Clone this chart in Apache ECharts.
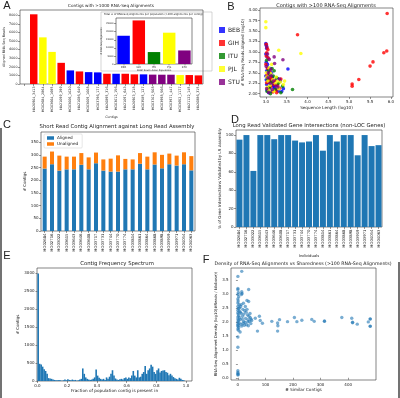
<!DOCTYPE html>
<html>
<head>
<meta charset="utf-8">
<script src="https://cdn.jsdelivr.net/npm/echarts@6/dist/echarts.min.js"></script>
<style>
html, body { margin: 0; padding: 0; background: #fff; }
#main { width: 400px; height: 398px; }
</style>
</head>
<body>
<div id="main"></div>
<script>
// ---- A: contigs with >1000 alignments
var contigNames = ['NA20904_3413', 'HG02684_2864', 'HG03664_1695', 'NA21099_299', 'HG03006_1020',
  'NA21086_649', 'HG03009_1008', 'HG03796_177', 'NA20895_316', 'HG03012_156', 'NA21091_643',
  'NA20903_218', 'HG03585_127', 'HG03702_508', 'HG03998_566', 'HG03971_447', 'HG03652_1177',
  'NA21122_145', 'NA20886_315'];
var contigReads = [8100, 5420, 3730, 2460, 1580, 1460, 1380, 1350, 1190, 1190, 1190, 1120, 1120, 1090, 1080, 1080, 1040, 1040, 1000];
var contigPops = ['GIH', 'PJL', 'PJL', 'GIH', 'BEB', 'GIH', 'BEB', 'BEB', 'GIH', 'BEB', 'GIH',
  'GIH', 'BEB', 'STU', 'STU', 'STU', 'PJL', 'GIH', 'GIH'];
var aTicks = [0, 1000, 2000, 3000, 4000, 5000, 6000, 7000, 8000];

// inset: totals per population
var popNames = ['BEB', 'GIH', 'ITU', 'PJL', 'STU'];
var popTotals = [17500, 27000, 7400, 19400, 8400];
var insetTicks = [0, 5000, 10000, 15000, 20000, 25000];

// ---- B: log10 length vs log10 reads, per population
var bebPts = [[3.00,3.20],[3.01,3.16],[3.02,3.08],[3.00,2.95],[3.03,2.88],[3.01,2.75],[3.05,2.62],[3.02,2.55],
  [3.08,2.48],[3.00,2.42],[3.04,2.38],[3.10,2.35],[3.12,2.30],[3.06,2.27],[3.02,2.22],[3.15,2.20],[3.18,2.25],
  [3.20,2.15],[3.09,2.12],[3.03,2.08],[3.25,2.10],[3.13,2.05],[3.07,2.02],[3.30,2.06],[3.22,2.32],[3.16,2.40],
  [3.28,2.36],[3.35,2.30],[3.42,2.12],[3.53,2.59],[3.11,2.60],[3.04,2.70],[3.19,2.18],[3.01,2.33],[3.26,2.22],
  [3.14,2.50],[3.38,2.05]];
var gihPts = [[3.01,3.18],[3.03,3.10],[3.05,3.05],[3.02,2.98],[3.06,2.85],[3.00,2.70],[3.04,2.60],[3.09,2.52],
  [3.03,2.45],[3.11,2.40],[3.07,2.33],[3.15,2.28],[3.02,2.26],[3.20,2.22],[3.12,2.17],[3.05,2.12],[3.24,2.08],
  [3.17,2.04],[3.09,2.30],[3.28,2.20],[3.33,2.13],[3.14,2.36],[3.21,2.31],[3.76,3.41],[5.91,3.92],[5.83,2.98],
  [5.90,3.02],[5.57,2.76],[5.50,2.66],[5.23,2.34],[5.07,2.23],[5.07,2.18],[3.01,2.90],[3.36,2.35],[3.26,2.02]];
var ituPts = [[3.02,2.80],[3.06,2.55],[3.10,2.45],[3.04,2.35],[3.13,2.28],[3.18,2.42],[3.08,2.15],[3.22,2.10],
  [3.03,2.05],[3.30,2.25],[3.15,2.60],[3.26,2.38],[3.64,2.10],[3.36,2.02],[3.40,2.18],[3.20,2.55],[3.11,2.00]];
var pjlPts = [[3.00,3.72],[3.00,3.58],[3.31,3.04],[3.84,2.96],[3.02,2.40],[3.07,2.62],[3.12,2.48],[3.05,2.30],
  [3.17,2.33],[3.23,2.25],[3.10,2.20],[3.28,2.30],[3.35,2.28],[3.42,2.22],[3.08,2.08],[3.19,2.06],[3.14,2.70],
  [3.03,2.15],[3.25,2.40],[3.31,2.12],[3.45,2.30],[3.01,2.50]];
var stuPts = [[3.02,3.12],[3.04,2.95],[3.08,2.82],[3.01,2.65],[3.20,2.88],[3.41,2.81],[3.06,2.50],[3.13,2.43],
  [3.05,2.38],[3.18,2.30],[3.10,2.25],[3.24,2.18],[3.02,2.12],[3.16,2.10],[3.29,2.16],[3.07,2.03],[3.21,2.72],
  [3.33,2.35],[3.12,2.58]];
var bXTicks = [3.0, 3.5, 4.0, 4.5, 5.0, 5.5, 6.0];
var bYTicks = [2.00, 2.25, 2.50, 2.75, 3.00, 3.25, 3.50, 3.75, 4.00];

// ---- C / D: individuals
var individuals = ['HG02684', 'HG02716', 'HG03022', 'HG03615', 'HG03643', 'HG03646', 'HG03608', 'HG03717',
  'HG03731', 'HG03744', 'HG03770', 'HG03774', 'HG03814', 'HG03861', 'HG03864', 'HG03868', 'HG03898',
  'HG03919', 'HG03971', 'HG04054', 'HG04063'];
var alignedCounts = [246, 263, 238, 243, 243, 261, 243, 267, 238, 234, 234, 243, 243, 265, 243, 262, 247, 263, 258, 263, 239];
var unalignedCounts = [47, 50, 59, 50, 50, 46, 47, 42, 44, 51, 64, 41, 39, 42, 50, 48, 53, 42, 39, 47, 56];
var cTicks = [0, 50, 100, 150, 200, 250, 300, 350];
var validatedPct = [95, 100, 61, 100, 100, 95.5, 100, 100, 94, 92, 93, 100, 83, 100, 93, 100, 100, 78, 100, 88, 89];
var dTicks = [0, 20, 40, 60, 80, 100];

// ---- E: contig frequency spectrum, bins of 0.01
var freqCounts = [
  3000, 480, 460, 400, 330, 280, 200, 80, 70, 60,
  40, 30, 20, 20, 30, 20, 10, 20, 40, 20,
  50, 30, 20, 40, 20, 30, 10, 20, 40, 60,
  350, 200, 100, 60, 40, 30, 40, 60, 100, 320,
  150, 90, 60, 40, 60, 30, 100, 60, 120, 200,
  300, 150, 70, 40, 30, 50, 60, 40, 80, 100,
  60, 100, 80, 150, 280, 150, 100, 300, 100, 120,
  200, 250, 420, 200, 300, 350, 450, 400, 250, 200,
  300, 350, 240, 280, 290, 300, 250, 230, 160, 200,
  150, 110, 80, 60, 40, 90, 60, 30, 20, 0];
var binWidth = 0.01;
var eXTicks = [0, 0.2, 0.4, 0.6, 0.8, 1.0];
var eYTicks = [0, 500, 1000, 1500, 2000, 2500, 3000];

// ---- F: density vs sharedness
var densityPts = [[0,3.63],[14,3.81],[0,3.20],[0,3.15],[2,3.05],[0,2.98],[3,2.90],[0,2.82],[1,2.75],[0,2.68],
  [4,2.62],[0,2.55],[2,2.48],[0,2.42],[5,2.38],[0,2.33],[1,2.28],[3,2.22],[0,2.18],[6,2.15],[0,2.10],[2,2.05],
  [0,2.00],[4,1.96],[0,1.92],[1,1.88],[0,1.84],[3,1.80],[0,1.75],[2,1.70],[8,1.64],[0,1.46],[0,1.09],[0,0.25],
  [0,0.19],[0,0.15],[1,0.12],[0,0.10],
  [14,3.08],[15,3.02],[13,2.98],[39,3.16],[20,2.67],[33,2.77],[39,2.73],[10,2.55],[18,2.45],[25,2.40],[30,2.35],
  [12,2.30],[22,2.28],[35,2.25],[40,2.20],[45,2.15],[28,2.12],[16,2.10],[8,2.08],[50,2.05],[42,2.02],[36,2.00],
  [26,1.98],[19,1.95],[11,1.92],[31,1.90],[47,1.94],[23,1.88],[14,1.85],[38,1.86],[44,2.30],[33,2.45],[27,2.55],
  [17,2.20],[9,2.35],[48,2.10],[37,2.08],[21,2.02],[6,2.50],[12,2.62],
  [63,2.13],[71,1.67],[78,2.20],[81,2.05],[89,1.95],[123,2.02],[144,1.96],[144,1.67],[145,1.86],[151,2.08],
  [180,2.01],[205,2.16],[214,2.01],[232,2.06],[268,2.09],[277,2.02],[314,2.02],[314,2.03],[377,2.16],[413,2.13],
  [416,1.99],[416,1.97],[433,1.92],[473,2.00],[480,2.11],[480,2.10],[480,1.85],[480,1.84]];
var fXTicks = [0, 100, 200, 300, 400];
var fYTicks = [0, 0.5, 1.0, 1.5, 2.0, 2.5, 3.0, 3.5];

var popColors = { BEB: '#0000ff', GIH: '#ff0000', ITU: '#008000', PJL: '#ffff00', STU: '#800080' };
var blue = '#1f77b4', orange = '#ff7f0e';
var FONT = 'DejaVu Sans';
var ink = '#222';

var chart = echarts.init(document.getElementById('main'));

function plain(v) { return String(v); }
function fixed(n) { return function (v) { return v.toFixed(n); }; }

function grid(l, t, w, h) {
  return { left: l, top: t, width: w, height: h, show: true, borderColor: '#333', borderWidth: 0.6,
    backgroundColor: 'transparent', containLabel: false };
}
function tick(vals) {
  var t = { show: true, length: 2, lineStyle: { color: '#333', width: 0.5 } };
  if (vals) t.customValues = vals;
  return t;
}
function lab(size, vals, fmt, extra) {
  var l = { fontSize: size, color: ink, fontFamily: FONT, margin: 2.5 };
  if (vals) l.customValues = vals;
  if (fmt) l.formatter = fmt;
  for (var k in extra) l[k] = extra[k];
  return l;
}
function nameStyle(size) {
  return { fontSize: size, color: ink, fontFamily: FONT };
}
function catAxis(gi, data, size, name, gap) {
  return { gridIndex: gi, type: 'category', data: data, axisLine: { show: false },
    axisTick: { show: true, alignWithLabel: true, length: 2, lineStyle: { color: '#333', width: 0.5 } },
    axisLabel: lab(size, null, null, { rotate: 90, interval: 0 }),
    name: name, nameLocation: 'middle', nameGap: gap, nameTextStyle: nameStyle(size) };
}
function valAxis(gi, min, max, vals, fmt, size, name, gap, nsize) {
  return { gridIndex: gi, type: 'value', min: min, max: max, axisLine: { show: false },
    splitLine: { show: false }, axisTick: tick(vals), axisLabel: lab(size, vals, fmt || plain),
    name: name, nameLocation: 'middle', nameGap: gap, nameTextStyle: nameStyle(nsize || size) };
}
function txt(x, y, s, size, align, fam) {
  return { type: 'text', x: x, y: y, silent: true,
    style: { text: s, fontSize: size, fill: ink, fontFamily: fam || FONT,
      align: align || 'center', verticalAlign: 'middle' } };
}

var aCats = [''].concat(contigNames);
var aData = ['-'].concat(contigReads.map(function (v, i) {
  return { value: v, itemStyle: { color: popColors[contigPops[i]] } };
}));

var option = {
  animation: false,
  backgroundColor: '#fff',
  textStyle: { fontFamily: FONT },
  grid: [
    grid(20, 10, 183, 74),   // A
    grid(116, 18, 76, 46),   // inset
    grid(260, 8, 133, 89),   // B
    grid(41, 132, 154, 99),  // C
    grid(236, 130, 146, 97), // D
    grid(37, 268, 155, 113), // E
    grid(231, 268, 145, 112) // F
  ],
  xAxis: [
    catAxis(0, aCats, 3.3, 'Contigs', 29),
    { gridIndex: 1, type: 'category', data: popNames, axisLine: { show: false },
      axisTick: { show: true, alignWithLabel: true, length: 1.5, lineStyle: { color: '#333', width: 0.4 } },
      axisLabel: lab(2.6, null, null, { margin: 1.5, interval: 0 }),
      name: '1KGP South Asian Population', nameLocation: 'middle', nameGap: 5, nameTextStyle: nameStyle(2.4) },
    valAxis(2, 2.86, 6.05, bXTicks, fixed(1), 4, 'Sequence Length (log10)', 9, 4.2),
    catAxis(3, individuals, 3.8, '', 0),
    catAxis(4, individuals, 3.8, 'Individuals', 27),
    valAxis(5, -0.003, 1.04, eXTicks, fixed(1), 4, 'Fraction of population contig is present in', 8, 4.2),
    valAxis(6, -25, 501, fXTicks, plain, 4, '# Similar Contigs', 8, 4.2)
  ],
  yAxis: [
    valAxis(0, 0, 8600, aTicks, plain, 3.3, 'Aligned RNA-Seq Reads', 10, 3.4),
    valAxis(1, 0, 28500, insetTicks, plain, 2.4, '# RNA-Seq Alignments', 9, 2.4),
    valAxis(2, 1.92, 4.05, bYTicks, fixed(2), 4, '# RNA-Seq Reads Aligned (log10)', 12, 4),
    valAxis(3, 0, 390, cTicks, plain, 4, '# Contigs', 10, 4),
    valAxis(4, 0, 105.5, dTicks, plain, 4, '% of Gene Intersections Validated by LR Assembly', 11, 4),
    valAxis(5, 0, 3150, eYTicks, plain, 4, '# Contigs', 14, 4),
    valAxis(6, -0.08, 3.93, fYTicks, fixed(1), 4,
      'RNA-Seq Alignment Density (log10(#Reads / kilobase))', 11, 3.8)
  ],
  legend: [
    { orient: 'vertical', left: 214, top: 22, itemWidth: 6, itemHeight: 6, itemGap: 7, icon: 'rect',
      data: ['BEB', 'GIH', 'ITU', 'PJL', 'STU'], textStyle: { fontSize: 6, color: ink, fontFamily: FONT, padding: [0, 0, 0, -2] } },
    { orient: 'vertical', left: 44, top: 134, itemWidth: 7, itemHeight: 3.5, itemGap: 2, icon: 'rect',
      padding: [2, 4, 2, 3], borderColor: '#ccc', borderWidth: 0.5, borderRadius: 1,
      data: ['Aligned', 'Unaligned'], textStyle: { fontSize: 4.2, color: ink, fontFamily: FONT, padding: [0, 0, 0, -2] } }
  ],
  graphic: [
    { type: 'rect', z: -1, silent: true, shape: { x: 101, y: 12, width: 111, height: 59 },
      style: { fill: '#fff', stroke: '#bbb', lineWidth: 0.6 } },
    { type: 'text', x: 104, y: 14.5, silent: true,
      style: { text: 'Total # of RNA-Seq Alignments per population (>100 alignments per contig)', fontSize: 2.6,
        fill: ink, fontFamily: FONT, verticalAlign: 'middle', width: 106, overflow: 'truncate', ellipsis: '' } },
    { type: 'line', silent: true, shape: { x1: 1, y1: 128, x2: 1, y2: 398 }, style: { stroke: '#444', lineWidth: 1.5 } },
    { type: 'line', silent: true, shape: { x1: 399, y1: 262, x2: 399, y2: 398 }, style: { stroke: '#444', lineWidth: 1.5 } },
    txt(7, 6, 'A', 11, 'center', 'Liberation Sans'),
    txt(231, 7, 'B', 11, 'center', 'Liberation Sans'),
    txt(7, 125, 'C', 11, 'center', 'Liberation Sans'),
    txt(235, 120, 'D', 11, 'center', 'Liberation Sans'),
    txt(7, 256, 'E', 11, 'center', 'Liberation Sans'),
    txt(206, 260, 'F', 11, 'center', 'Liberation Sans'),
    txt(111, 6, 'Contigs with >1000 RNA-Seq Alignments', 4.2),
    txt(326, 5.5, 'Contigs with >100 RNA-Seq Alignments', 5),
    txt(117, 126.5, 'Short Read Contig Alignment against Long Read Assembly', 5.3),
    txt(309, 125.5, 'Long Read Validated Gene Intersections (non-LOC Genes)', 5.3),
    txt(117, 263.5, 'Contig Frequency Spectrum', 5.3),
    txt(303, 263.5, 'Density of RNA-Seq Alignments vs Sharedness (>100 RNA-Seq Alignments)', 4.7)
  ],
  series: [
    { type: 'bar', name: 'contigs', xAxisIndex: 0, yAxisIndex: 0, data: aData, barCategoryGap: '18%' },
    { type: 'bar', name: 'totals', xAxisIndex: 1, yAxisIndex: 1, z: 10, barCategoryGap: '18%',
      data: popTotals.map(function (v, i) { return { value: v, itemStyle: { color: popColors[popNames[i]] } }; }) },
    { type: 'scatter', name: 'BEB', xAxisIndex: 2, yAxisIndex: 2, data: bebPts, symbolSize: 3.6, itemStyle: { color: popColors.BEB } },
    { type: 'scatter', name: 'GIH', xAxisIndex: 2, yAxisIndex: 2, data: gihPts, symbolSize: 3.6, itemStyle: { color: popColors.GIH } },
    { type: 'scatter', name: 'ITU', xAxisIndex: 2, yAxisIndex: 2, data: ituPts, symbolSize: 3.6, itemStyle: { color: popColors.ITU } },
    { type: 'scatter', name: 'PJL', xAxisIndex: 2, yAxisIndex: 2, data: pjlPts, symbolSize: 3.6, itemStyle: { color: popColors.PJL } },
    { type: 'scatter', name: 'STU', xAxisIndex: 2, yAxisIndex: 2, data: stuPts, symbolSize: 3.6, itemStyle: { color: popColors.STU } },
    { type: 'bar', name: 'Aligned', stack: 'c', xAxisIndex: 3, yAxisIndex: 3, data: alignedCounts, barWidth: '55%', itemStyle: { color: blue } },
    { type: 'bar', name: 'Unaligned', stack: 'c', xAxisIndex: 3, yAxisIndex: 3, data: unalignedCounts, barWidth: '55%', itemStyle: { color: orange } },
    { type: 'bar', name: 'validated', xAxisIndex: 4, yAxisIndex: 4, data: validatedPct, barCategoryGap: '14%', itemStyle: { color: blue } },
    { type: 'bar', name: 'spectrum', xAxisIndex: 5, yAxisIndex: 5, barWidth: 1.6, itemStyle: { color: blue },
      data: freqCounts.map(function (c, i) { return [(i + 0.5) * binWidth, c]; }) },
    { type: 'scatter', name: 'density', xAxisIndex: 6, yAxisIndex: 6, data: densityPts, symbolSize: 3.4,
      itemStyle: { color: blue, opacity: 0.6 } }
  ]
};

chart.setOption(option);
</script>
</body>
</html>
